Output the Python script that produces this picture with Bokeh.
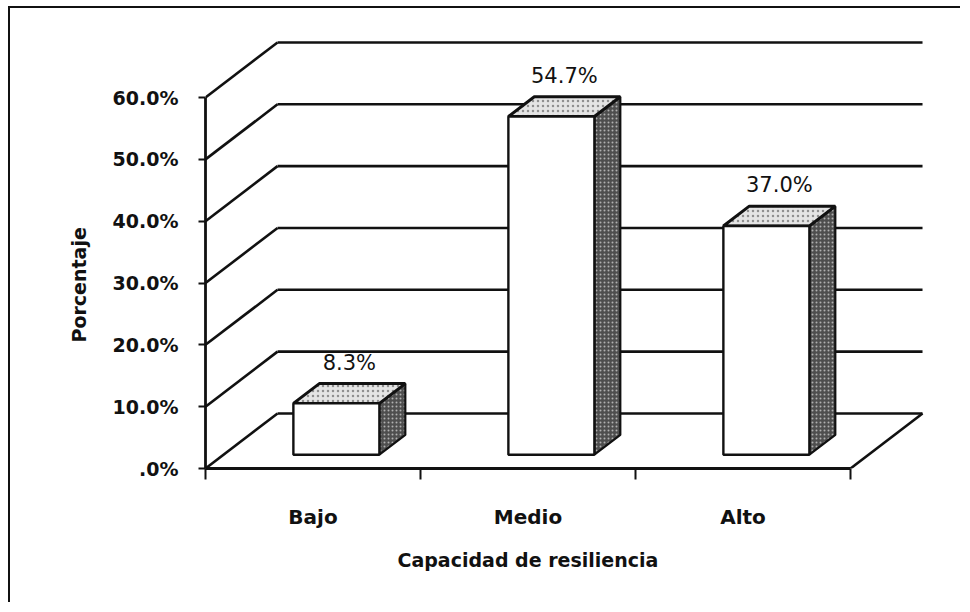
from bokeh.plotting import figure
from bokeh.models import Range1d, FixedTicker, Title
from bokeh.embed import file_html
from bokeh.resources import INLINE
from bokeh.core.properties import value

# ---------------- data ----------------
categories = ["Bajo", "Medio", "Alto"]
percentages = [8.3, 54.7, 37.0]
data_labels = ["8.3%", "54.7%", "37.0%"]
y_ticks = [0, 10, 20, 30, 40, 50, 60]
y_tick_labels = [".0%", "10.0%", "20.0%", "30.0%", "40.0%", "50.0%", "60.0%"]
x_title = "Capacidad de resiliencia"
y_title = "Porcentaje"

# ---------------- 3D (oblique) style constants ----------------
DX = 0.335      # depth shift along x (category units)
DY = 8.9        # depth shift along y (percent units)
D0, D1 = 0.25, 0.61   # bar front / back depth (fraction of floor depth)
HALF = 0.20     # half bar width
OFF = 0.525     # bar center inside category slot
INK = "#111111"
FONT = "DejaVu Sans"

n = len(categories)

p = figure(width=952, height=596,
           x_range=Range1d(0, 3.4512), y_range=Range1d(0, 71.97),
           output_backend="svg", toolbar_location=None,
           min_border_left=195, min_border_right=15,
           min_border_top=15, min_border_bottom=136)
p.styles = {"border-left": "2px solid #111", "border-top": "2px solid #111",
            "margin-left": "8px", "margin-top": "6px"}
p.outline_line_color = None
p.xgrid.visible = False
p.ygrid.visible = False
p.background_fill_color = "white"
p.border_fill_color = "white"

# ---------------- walls / gridlines ----------------
wall_xs, wall_ys = [], []
for v in y_ticks:
    wall_xs.append([0, DX])
    wall_ys.append([v, v + DY])
    wall_xs.append([DX, n + DX])
    wall_ys.append([v + DY, v + DY])
# right edge of the floor
wall_xs.append([n, n + DX])
wall_ys.append([y_ticks[0], y_ticks[0] + DY])
p.multi_line(wall_xs, wall_ys, line_color=INK, line_width=2.6)

# ---------------- bars ----------------
front_l, front_r, front_b, front_t = [], [], [], []
top_xs, top_ys, side_xs, side_ys = [], [], [], []
lab_x, lab_y = [], []
for i, v in enumerate(percentages):
    xl = i + OFF - HALF
    xr = i + OFF + HALF
    front_l.append(xl + D0 * DX)
    front_r.append(xr + D0 * DX)
    front_b.append(D0 * DY)
    front_t.append(v + D0 * DY)
    top_xs.append([xl + D0 * DX, xr + D0 * DX, xr + D1 * DX, xl + D1 * DX])
    top_ys.append([v + D0 * DY, v + D0 * DY, v + D1 * DY, v + D1 * DY])
    side_xs.append([xr + D0 * DX, xr + D1 * DX, xr + D1 * DX, xr + D0 * DX])
    side_ys.append([D0 * DY, D1 * DY, v + D1 * DY, v + D0 * DY])
    lab_x.append(i + OFF + (D0 + D1) / 2 * DX)
    lab_y.append(v + D1 * DY)

p.patches(side_xs, side_ys, fill_color="#4e4e4e", line_color=INK, line_width=2.2,
          hatch_pattern="dot", hatch_color="#c8c8c8", hatch_scale=4, hatch_alpha=0.8)
p.patches(top_xs, top_ys, fill_color="#e4e4e4", line_color=INK, line_width=3,
          hatch_pattern="dot", hatch_color="#555555", hatch_scale=5, hatch_alpha=0.6)
p.quad(left=front_l, right=front_r, bottom=front_b, top=front_t,
       fill_color="white", line_color=INK, line_width=2.4)

p.text(lab_x, lab_y, text=data_labels, text_align="center", text_baseline="bottom",
       y_offset=-9, text_font=value(FONT), text_font_size="21px", text_color=INK)

# ---------------- axes ----------------
xa = p.xaxis[0]
xa.ticker = FixedTicker(ticks=[i + 0.5 for i in range(n)],
                        minor_ticks=list(range(n + 1)))
xa.major_label_overrides = {i + 0.5: c for i, c in enumerate(categories)}
xa.bounds = (0, n)
xa.axis_line_color = INK
xa.axis_line_width = 2.8
xa.major_tick_out = 0
xa.major_tick_in = 0
xa.major_tick_line_color = None
xa.minor_tick_out = 11
xa.minor_tick_in = 0
xa.minor_tick_line_color = INK
xa.minor_tick_line_width = 2
xa.major_label_standoff = 25
xa.major_label_text_font = FONT
xa.major_label_text_font_size = "20px"
xa.major_label_text_font_style = "bold"
xa.major_label_text_color = INK

ya = p.yaxis[0]
ya.ticker = FixedTicker(ticks=y_ticks, minor_ticks=[])
ya.major_label_overrides = {t: l for t, l in zip(y_ticks, y_tick_labels)}
ya.bounds = (y_ticks[0], y_ticks[-1])
ya.axis_line_color = INK
ya.axis_line_width = 2.8
ya.major_tick_out = 7
ya.major_tick_in = 0
ya.major_tick_line_color = INK
ya.major_tick_line_width = 2
ya.minor_tick_line_color = None
ya.major_label_standoff = 20
ya.major_label_text_font = FONT
ya.major_label_text_font_size = "19px"
ya.major_label_text_font_style = "bold"
ya.major_label_text_color = INK

# axis titles: centred on the floor (x) and on the value range (y)
p.add_layout(Title(text=x_title, align="left", offset=192, standoff=31,
                   text_font=FONT, text_font_size="19px", text_font_style="bold",
                   text_color=INK), "below")
p.add_layout(Title(text=y_title, align="left", offset=126, standoff=39,
                   text_font=FONT, text_font_size="19px", text_font_style="bold",
                   text_color=INK), "left")

open("out.html", "w").write(file_html(p, INLINE))
